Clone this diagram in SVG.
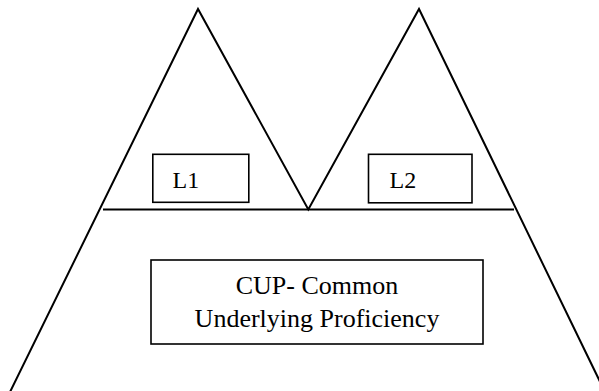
<svg xmlns="http://www.w3.org/2000/svg" width="599" height="391" viewBox="0 0 599 391">
<style>
.ln{stroke:#000;stroke-width:2;fill:none;stroke-linecap:butt}
.box{stroke:#000;stroke-width:1.6;fill:#fff}
.t{fill:#000}
</style>
<rect width="599" height="391" fill="#fff"/>
<g id="connectors">
<polyline class="ln" points="10,392 198,9 308.3,209.5 419,9 605,392"/>
<line class="ln" x1="103" y1="209.5" x2="514" y2="209.5"/>
</g>
<g id="l1">
<rect class="box" x="152.8" y="154.3" width="96" height="48"/>
<text class="t" x="172.5" y="188.3" font-size="24" font-family="Liberation Serif, Times New Roman, serif">L1</text>
</g>
<g id="l2">
<rect class="box" x="368.5" y="154.3" width="103.5" height="48.5"/>
<text class="t" x="389.5" y="188.3" font-size="24" font-family="Liberation Serif, Times New Roman, serif">L2</text>
</g>
<g id="cup">
<rect class="box" x="151" y="260" width="332" height="84"/>
<text class="t" x="317" y="294.3" font-size="26" text-anchor="middle" font-family="Liberation Serif, Times New Roman, serif">CUP- Common</text>
<text class="t" x="317" y="326.5" font-size="26" text-anchor="middle" font-family="Liberation Serif, Times New Roman, serif">Underlying Proficiency</text>
</g>
</svg>
